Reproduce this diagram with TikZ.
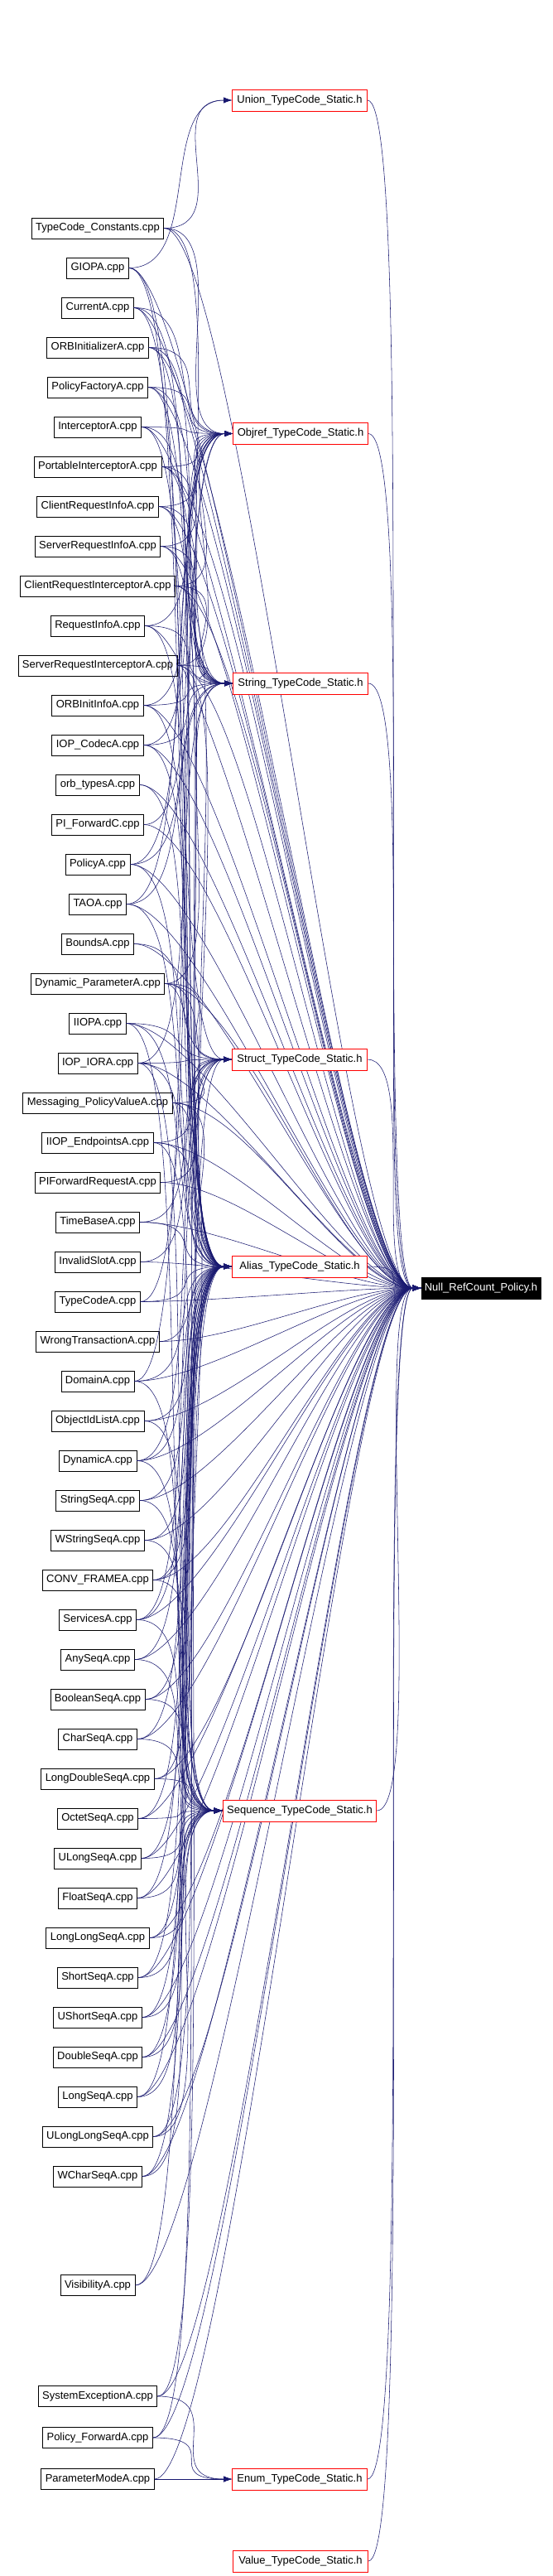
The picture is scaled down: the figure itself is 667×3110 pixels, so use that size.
\documentclass[tikz,border=0pt]{standalone}
\usepackage{fontspec}
\setmainfont{Liberation Sans}
\usetikzlibrary{arrows.meta}
\definecolor{navyc}{RGB}{25,25,112}
\begin{document}
\begin{tikzpicture}[x=1pt,y=-1pt,
  src/.style={draw=black,line width=0.8pt,fill=white,inner xsep=5pt,minimum height=25pt,font=\fontsize{13}{15}\selectfont},
  hdr/.style={draw=red,line width=0.8pt,fill=white,inner xsep=5pt,minimum height=26pt,minimum width=163pt,font=\fontsize{13}{15}\selectfont},
  tgt/.style={draw=black,fill=black,text=white,inner xsep=4pt,minimum height=26pt,font=\fontsize{13}{15}\selectfont},
  edge/.style={draw=navyc,line width=0.55pt,-{Latex[length=10pt,width=7pt]}}]
\useasboundingbox (0,0) rectangle (667,3110);
\node[hdr] (U) at (362,121) {Union\_TypeCode\_Static.h};
\node[hdr] (O) at (363,523.5) {Objref\_TypeCode\_Static.h};
\node[hdr] (S) at (363,825) {String\_TypeCode\_Static.h};
\node[hdr] (St) at (362,1279) {Struct\_TypeCode\_Static.h};
\node[hdr] (A) at (362,1529) {Alias\_TypeCode\_Static.h};
\node[hdr] (Q) at (362,2186) {Sequence\_TypeCode\_Static.h};
\node[hdr] (E) at (362,2993) {Enum\_TypeCode\_Static.h};
\node[hdr] (V) at (363,3092) {Value\_TypeCode\_Static.h};
\node[tgt] (N) at (581,1555) {Null\_RefCount\_Policy.h};
\foreach \i/\t in {0/TypeCode\_Constants.cpp,1/GIOPA.cpp,2/CurrentA.cpp,3/ORBInitializerA.cpp,4/PolicyFactoryA.cpp,5/InterceptorA.cpp,6/PortableInterceptorA.cpp,7/ClientRequestInfoA.cpp,8/ServerRequestInfoA.cpp,9/ClientRequestInterceptorA.cpp,10/RequestInfoA.cpp,11/ServerRequestInterceptorA.cpp,12/ORBInitInfoA.cpp,13/IOP\_CodecA.cpp,14/orb\_typesA.cpp,15/PI\_ForwardC.cpp,16/PolicyA.cpp,17/TAOA.cpp,18/BoundsA.cpp,19/Dynamic\_ParameterA.cpp,20/IIOPA.cpp,21/IOP\_IORA.cpp,22/Messaging\_PolicyValueA.cpp,23/IIOP\_EndpointsA.cpp,24/PIForwardRequestA.cpp,25/TimeBaseA.cpp,26/InvalidSlotA.cpp,27/TypeCodeA.cpp,28/WrongTransactionA.cpp,29/DomainA.cpp,30/ObjectIdListA.cpp,31/DynamicA.cpp,32/StringSeqA.cpp,33/WStringSeqA.cpp,34/CONV\_FRAMEA.cpp,35/ServicesA.cpp,36/AnySeqA.cpp,37/BooleanSeqA.cpp,38/CharSeqA.cpp,39/LongDoubleSeqA.cpp,40/OctetSeqA.cpp,41/ULongSeqA.cpp,42/FloatSeqA.cpp,43/LongLongSeqA.cpp,44/ShortSeqA.cpp,45/UShortSeqA.cpp,46/DoubleSeqA.cpp,47/LongSeqA.cpp,48/ULongLongSeqA.cpp,49/WCharSeqA.cpp}
  \node[src] (n\i) at (118,{275.5+48*\i}) {\t};
\node[src] (n50) at (118,2759) {VisibilityA.cpp};
\node[src] (n51) at (118,2893) {SystemExceptionA.cpp};
\node[src] (n52) at (118,2943) {Policy\_ForwardA.cpp};
\node[src] (n53) at (118,2993) {ParameterModeA.cpp};
\foreach \i/\ts in {0/{U,O,S,N},1/{U,St,A,N},2/{O,S,A,N},3/{O,S,A,N},4/{O,S,A,N},5/{O,S,A,N},6/{O,S,A,N},7/{O,S,A,N},8/{O,S,A,N},9/{O,S,A,N},10/{O,S,A,N},11/{O,S,A,N},12/{O,S,A,N},13/{O,S,A,N},14/{A,N},15/{O,N},16/{O,S,A,N},17/{O,S,A,N},18/{St,N},19/{St,A,S,Q,N},20/{St,A,Q,N},21/{St,A,S,Q,N},22/{St,A,Q,N},23/{St,A,Q,N},24/{St,N},25/{St,A,N},26/{St,N},27/{O,A,N},28/{St,N},29/{O,A,Q,N},30/{A,Q,N},31/{St,A,Q,N},32/{A,Q,N},33/{A,Q,N},34/{St,A,Q,N},35/{St,A,Q,N},36/{A,Q,N},37/{A,Q,N},38/{A,Q,N},39/{A,Q,N},40/{A,Q,N},41/{A,Q,N},42/{A,Q,N},43/{A,Q,N},44/{A,Q,N},45/{A,Q,N},46/{A,Q,N},47/{A,Q,N},48/{A,Q,N},49/{A,Q,N},50/{A,N},51/{E,St,N},52/{E,A,N},53/{E,N}}
  \foreach \t in \ts
    \draw[edge] (n\i.east) .. controls +(90,0) and +(-90,0) .. (\t.west);
\foreach \h in {U,O,S,St,A,Q,E,V}
  \draw[edge] (\h.east) .. controls +(60,0) and +(-60,0) .. (N.west);
\node[hdr] at (U) {Union\_TypeCode\_Static.h};
\node[hdr] at (O) {Objref\_TypeCode\_Static.h};
\node[hdr] at (S) {String\_TypeCode\_Static.h};
\node[hdr] at (St) {Struct\_TypeCode\_Static.h};
\node[hdr] at (A) {Alias\_TypeCode\_Static.h};
\node[hdr] at (Q) {Sequence\_TypeCode\_Static.h};
\node[hdr] at (E) {Enum\_TypeCode\_Static.h};
\node[hdr] at (V) {Value\_TypeCode\_Static.h};
\node[tgt] at (N) {Null\_RefCount\_Policy.h};
\end{tikzpicture}
\end{document}
